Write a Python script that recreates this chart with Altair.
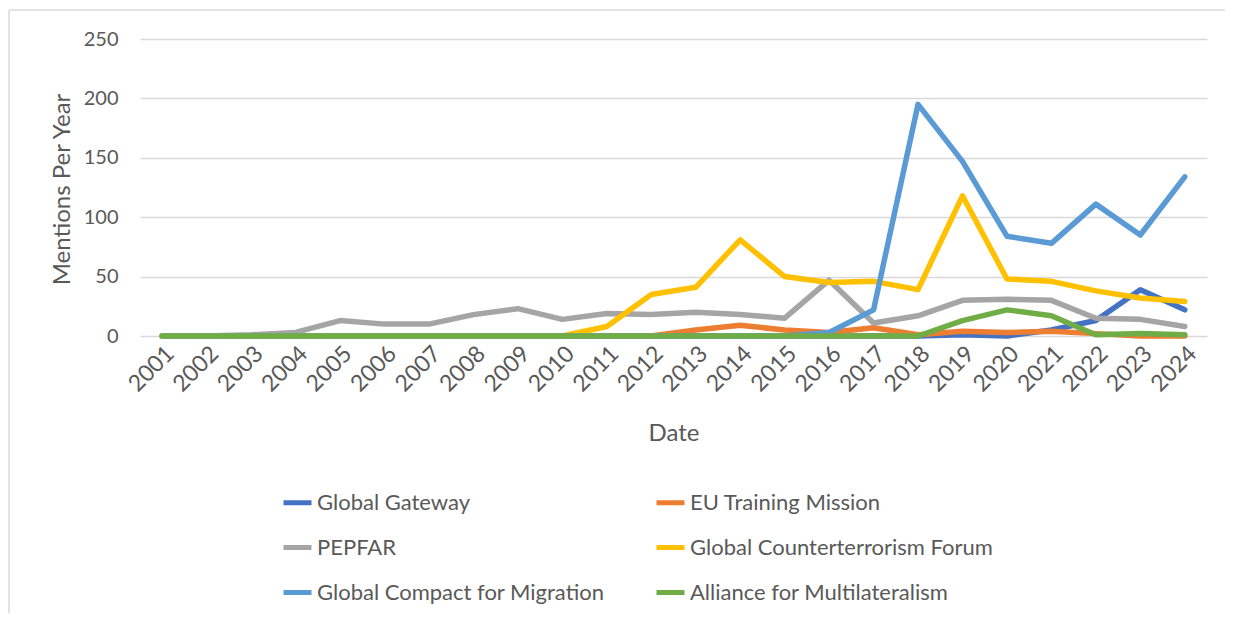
import altair as alt
import pandas as pd

years = [str(y) for y in range(2001, 2025)]

series_names = [
    "Global Gateway",
    "EU Training Mission",
    "PEPFAR",
    "Global Counterterrorism Forum",
    "Global Compact for Migration",
    "Alliance for Multilateralism",
]
series_colors = ["#4472C4", "#ED7D31", "#A5A5A5", "#FFC000", "#5B9BD5", "#70AD47"]

global_gateway = [0, 0, 0, 0, 0, 0, 0, 0, 0, 0, 0, 0, 0, 0, 0, 0, 0, 0, 1, 0, 5, 13, 39, 22]
eu_training_mission = [0, 0, 0, 0, 0, 0, 0, 0, 0, 0, 0, 0, 5, 9, 5, 3, 7, 1, 4, 3, 4, 2, 0, 0]
pepfar = [0, 0, 1, 3, 13, 10, 10, 18, 23, 14, 19, 18, 20, 18, 15, 47, 11, 17, 30, 31, 30, 15, 14, 8]
gctf = [0, 0, 0, 0, 0, 0, 0, 0, 0, 0, 8, 35, 41, 81, 50, 45, 46, 39, 118, 48, 46, 38, 32, 29]
gcm = [0, 0, 0, 0, 0, 0, 0, 0, 0, 0, 0, 0, 0, 0, 0, 3, 22, 195, 147, 84, 78, 111, 85, 134]
alliance = [0, 0, 0, 0, 0, 0, 0, 0, 0, 0, 0, 0, 0, 0, 0, 0, 0, 0, 13, 22, 17, 1, 2, 1]

y_ticks = [0, 50, 100, 150, 200, 250]

all_values = [global_gateway, eu_training_mission, pepfar, gctf, gcm, alliance]
rows = []
for order, (name, vals) in enumerate(zip(series_names, all_values)):
    for yr, v in zip(years, vals):
        rows.append({"Date": yr, "value": v, "series": name, "order": order})
df = pd.DataFrame(rows)

FONT = "Lato"
TXT = "#595959"
GRID = "#D9D9D9"

lines = alt.Chart(df).mark_line(strokeWidth=5.5, strokeCap="round", strokeJoin="round").encode(
    x=alt.X("Date:O", scale=alt.Scale(type="point", padding=0.5),
            axis=alt.Axis(labelAngle=-45, labelFontSize=23, labelColor=TXT, labelFont=FONT,
                          domain=False, ticks=False, grid=False, labelPadding=6,
                          title="Date", titleFontSize=24, titleFont=FONT, titleColor=TXT,
                          titleFontWeight="normal", titlePadding=26)),
    y=alt.Y("value:Q", scale=alt.Scale(domain=[0, 250], nice=False),
            axis=alt.Axis(values=y_ticks, labelFontSize=20, labelColor=TXT, labelFont=FONT,
                          domain=False, ticks=False, grid=True, gridColor=GRID, gridWidth=1.5,
                          labelPadding=22, title="Mentions Per Year", titleFontSize=24,
                          titleFont=FONT, titleColor=TXT, titleFontWeight="normal",
                          titleX=-78, titleY=150, titleBaseline="middle", titleAngle=-90)),
    color=alt.Color("series:N", scale=alt.Scale(domain=series_names, range=series_colors),
                    legend=alt.Legend(title=None, orient="none", legendX=141, legendY=447,
                                      columns=2, direction="horizontal",
                                      symbolType="stroke", symbolSize=784,
                                      symbolStrokeWidth=5, labelFontSize=22, labelFont=FONT,
                                      labelColor=TXT, rowPadding=17, columnPadding=41,
                                      labelOffset=3, padding=0, labelLimit=400)),
    order=alt.Order("order:Q"),
    detail="series:N",
)

border_left = alt.Chart(pd.DataFrame({"a": [0]})).mark_rule(color=GRID, strokeWidth=1.5).encode(
    x=alt.value(-131), y=alt.value(-29), y2=alt.value(600)
)
border_top = alt.Chart(pd.DataFrame({"a": [0]})).mark_rule(color=GRID, strokeWidth=1.5).encode(
    x=alt.value(-131), x2=alt.value(1200), y=alt.value(-29)
)

chart = alt.layer(border_left, border_top, lines).properties(
    width=1067, height=297,
    autosize=alt.AutoSizeParams(type="none"),
    padding={"left": 132, "top": 31, "right": 18, "bottom": 277},
    background="white",
).configure_view(stroke=None)

chart.save("out.html", embed_options={"renderer": "svg", "actions": False})
